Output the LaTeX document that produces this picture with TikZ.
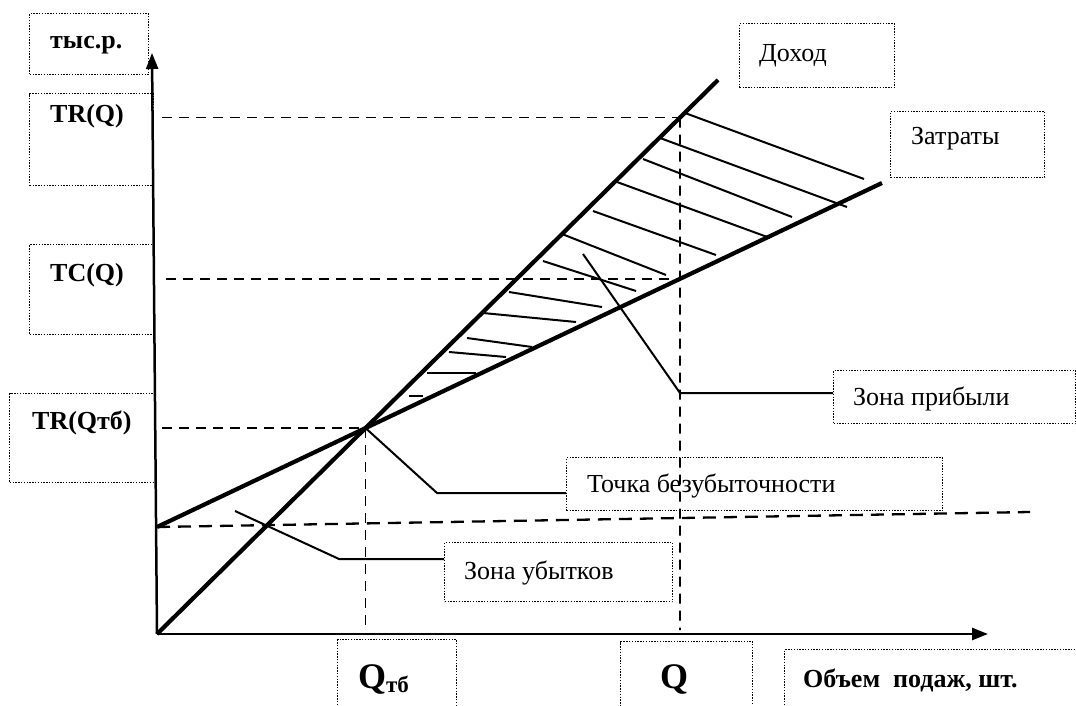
\documentclass[tikz,border=0pt]{standalone}
\usepackage{fontspec}
\setmainfont{Liberation Serif}
\newfontfamily\tnr{Liberation Serif}
\usetikzlibrary{arrows.meta,calc}
\begin{document}
\begin{tikzpicture}[x=1pt,y=-1pt,
 box/.style={draw,dash pattern=on 1.4pt off 1.4pt,line width=1.4pt,inner sep=0pt,anchor=north west},
 lbl/.style={anchor=base west,inner sep=0pt,font=\tnr\fontsize{26}{30}\selectfont},
 blbl/.style={anchor=base west,inner sep=0pt,font=\tnr\fontsize{26}{30}\selectfont\bfseries},
 guide/.style={line width=1.8pt,dash pattern=on 10pt off 7pt},
 fixed/.style={line width=2.3pt,dash pattern=on 13pt off 8pt},
 mainline/.style={line width=4.2pt},
 hatch/.style={line width=2pt},
 axis/.style={line width=2.5pt},
 leader/.style={line width=2pt}]
\useasboundingbox (0,0) rectangle (1076,706);
% coordinates
\coordinate (O) at (157,634);
\coordinate (Ytip) at (152,53);
\coordinate (Xtip) at (988,634);
\coordinate (R) at (718,80);
\coordinate (C0) at (157,527);
\coordinate (C1) at (882,183);
\coordinate (F1) at (1030,512);
\coordinate (Qtop) at (680,0);
\coordinate (Qbot) at (680,634);
\coordinate (BE) at (intersection of O--R and C0--C1);
\coordinate (TRQ) at (intersection of O--R and Qtop--Qbot);
\coordinate (TCQ) at (intersection of C0--C1 and Qtop--Qbot);
% boxes
\node[box,minimum width=119pt,minimum height=61pt] (unit) at (29,13) {};
\node[box,minimum width=124pt,minimum height=92pt] (trq) at (29,93) {};
\node[box,minimum width=124pt,minimum height=90pt] (tcq) at (29,244) {};
\node[box,minimum width=146pt,minimum height=89pt] (trqtb) at (9,393) {};
\node[box,minimum width=155pt,minimum height=64pt] (doh) at (739,23) {};
\node[box,minimum width=154pt,minimum height=66pt] (zat) at (890,111) {};
\node[box,minimum width=242pt,minimum height=53pt] (zprib) at (833,370) {};
\node[box,minimum width=376pt,minimum height=53pt] (tochka) at (566,457) {};
\node[box,minimum width=228pt,minimum height=59pt] (zub) at (444,542) {};
\node[box,minimum width=119pt,minimum height=90pt] (qtbbox) at (337,639) {};
\node[box,minimum width=132pt,minimum height=90pt] (qbox) at (620,641) {};
\node[box,minimum width=320pt,minimum height=90pt] (vol) at (784,649) {};
% texts
\node[blbl] (t-unit) at (50,49) {тыс.р.};
\node[blbl] (t-trq) at (50,123) {TR(Q)};
\node[blbl] (t-tcq) at (50,281) {TC(Q)};
\node[blbl] (t-trqtb) at (32,429) {TR(Qтб)};
\node[lbl] (t-doh) at (759,62) {Доход};
\node[lbl] (t-zat) at (911,145) {Затраты};
\node[lbl] (t-zprib) at (853,405) {Зона прибыли};
\node[lbl] (t-tochka) at (587,492) {Точка безубыточности};
\node[lbl] (t-zub) at (464,579) {Зона убытков};
\node[anchor=base west,inner sep=0pt,font=\tnr\fontsize{36}{40}\selectfont\bfseries] (t-qtb) at (358,688) {Q\raisebox{-4pt}{\fontsize{23}{26}\selectfont тб}};
\node[anchor=base west,inner sep=0pt,font=\tnr\fontsize{36}{40}\selectfont\bfseries] (t-q) at (660,688) {Q};
\node[anchor=base west,inner sep=0pt,font=\tnr\fontsize{26}{30}\selectfont\bfseries] (t-vol) at (803,687) {Объем\ \ подаж, шт.};
% guides
\draw[guide] (162,0 |- TRQ) -- (TRQ);
\draw[guide] (166,0 |- TCQ) -- (TCQ);
\draw[guide] (162,0 |- BE) -- (BE);
\draw[guide] (TRQ) -- (680,630);
\draw[guide] (BE) -- (BE |- 0,630);
\draw[fixed] (C0) -- (F1);
% axes
\draw[axis,-{Triangle[length=16pt,width=12pt]}] (O) -- (Ytip);
\draw[axis,-{Triangle[length=16pt,width=12pt]}] (O) -- (Xtip);
% main lines
\draw[mainline] (O) -- (R);
\draw[mainline] (C0) -- (C1);
% hatching
\draw[hatch] (685,113) -- (864,179);
\draw[hatch] (660,138) -- (847,207);
\draw[hatch] (643,159) -- (792,217);
\draw[hatch] (617,182) -- (770,238);
\draw[hatch] (593,211) -- (716,255);
\draw[hatch] (562,234) -- (666,275);
\draw[hatch] (543,261) -- (636,291);
\draw[hatch] (509,292) -- (602,307);
\draw[hatch] (483,313) -- (576,322);
\draw[hatch] (467,338) -- (532,347);
\draw[hatch] (449,352) -- (506,357);
\draw[hatch] (427,373) -- (476,373);
\draw[hatch] (409,396) -- (423,396);
% leaders
\coordinate (lp1) at (583,254);
\coordinate (lp2) at (680,393);
\draw[leader] (lp1) -- (lp2) -- (lp2 -| zprib.west);
\coordinate (lb2) at (437,493);
\draw[leader] (BE) -- (lb2) -- (lb2 -| tochka.west);
\coordinate (ll1) at (235,511);
\coordinate (ll2) at (339,559);
\draw[leader] (ll1) -- (ll2) -- (ll2 -| zub.west);
\end{tikzpicture}
\end{document}
